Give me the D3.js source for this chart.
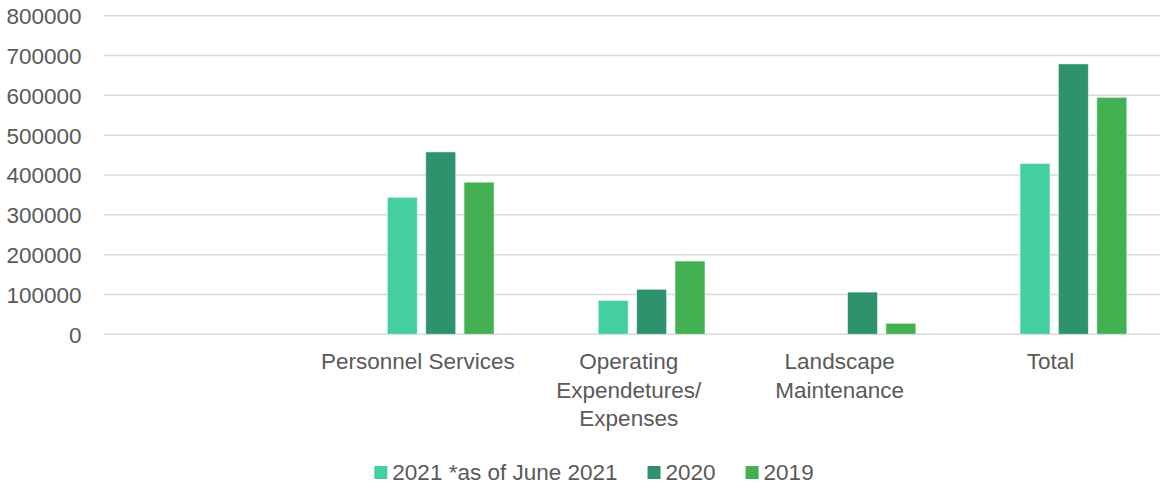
<!DOCTYPE html>
<html>
<head>
<meta charset="utf-8">
<script src="https://cdn.jsdelivr.net/npm/d3@7"></script>
<style>
  html, body { margin: 0; padding: 0; background: #fff; }
  svg { display: block; }
  text { font-family: "Liberation Sans", Arial, sans-serif; fill: #595959; }
</style>
</head>
<body>
<svg id="chart" width="1160" height="484"></svg>
<script>
const categories = ["", "Personnel Services", "Operating Expendetures/ Expenses", "Landscape Maintenance", "Total"];
const seriesNames = ["2021 *as of June 2021", "2020", "2019"];
const values2021 = [null, 344000, 85000, null, 429000];
const values2020 = [null, 458000, 113000, 106000, 679000];
const values2019 = [null, 382000, 184000, 27600, 595000];
const yTicks = [0, 100000, 200000, 300000, 400000, 500000, 600000, 700000, 800000];
const colors = ["#43CFA1", "#2E936D", "#43B051"];

const seriesValues = [values2021, values2020, values2019];
const FS = 22.5;

const svg = d3.select("#chart");

const x0 = d3.scaleBand().domain(categories).range([101.5, 1156]).padding(0);
const x1 = d3.scaleBand().domain(seriesNames).range([74.9, 181.7]).paddingInner(0.217).paddingOuter(0);
const y = d3.scaleLinear().domain([0, 800000]).range([334.3, 15.7]);

// gridlines
svg.append("g").selectAll("line").data(yTicks).join("line")
  .attr("x1", 104).attr("x2", 1160)
  .attr("y1", d => y(d)).attr("y2", d => y(d))
  .attr("stroke", "#d9d9d9").attr("stroke-width", 1.5);

// y axis labels
const yAxis = d3.axisLeft(y).tickValues(yTicks).tickSize(0).tickPadding(0).tickFormat(d3.format("d"));
const gy = svg.append("g").attr("transform", "translate(81.5,0)").call(yAxis);
gy.select(".domain").remove();
gy.selectAll("text").attr("font-size", FS).attr("font-family", "Liberation Sans, Arial, sans-serif").attr("fill", "#595959").attr("dy", "0.35em");

// bars
const rows = [];
categories.forEach((c, i) => {
  seriesNames.forEach((s, j) => {
    const v = seriesValues[j][i];
    if (v != null) rows.push({ cat: c, series: s, value: v, color: colors[j] });
  });
});
svg.append("g").selectAll("rect").data(rows).join("rect")
  .attr("x", d => x0(d.cat) + x1(d.series))
  .attr("width", x1.bandwidth())
  .attr("y", d => y(d.value))
  .attr("height", d => y(0) - y(d.value))
  .attr("fill", d => d.color)
  .attr("stroke", "#ffffff").attr("stroke-opacity", 0.55).attr("stroke-width", 1);

// x labels with wrapping
const xg = svg.append("g");
categories.forEach(c => {
  if (!c) return;
  const cx = x0(c) + x0.bandwidth() / 2;
  const t = xg.append("text").attr("text-anchor", "middle").attr("font-size", FS)
    .attr("x", cx).attr("y", 369);
  const words = c.split(" ");
  let lines = [];
  let line = [];
  const measure = xg.append("text").attr("font-size", FS);
  words.forEach(w => {
    const trial = line.concat([w]).join(" ");
    measure.text(trial);
    if (measure.node().getComputedTextLength() > 205 && line.length) {
      lines.push(line.join(" "));
      line = [w];
    } else {
      line.push(w);
    }
  });
  lines.push(line.join(" "));
  measure.remove();
  lines.forEach((l, k) => {
    t.append("tspan").attr("x", cx).attr("dy", k === 0 ? 0 : 28.5).text(l);
  });
});

// legend
const lg = svg.append("g");
const items = [];
let cursor = 0;
seriesNames.forEach((s, j) => {
  const g = lg.append("g");
  g.append("rect").attr("x", cursor).attr("y", -6.5).attr("width", 13).attr("height", 13).attr("fill", colors[j]);
  const t = g.append("text").attr("x", cursor + 18).attr("y", 0).attr("dy", "0.35em").attr("font-size", FS).text(s);
  const w = t.node().getComputedTextLength();
  cursor += 18 + w + 30;
});
const totalW = cursor - 30;
lg.attr("transform", `translate(${594 - totalW / 2},472.5)`);
</script>
</body>
</html>
